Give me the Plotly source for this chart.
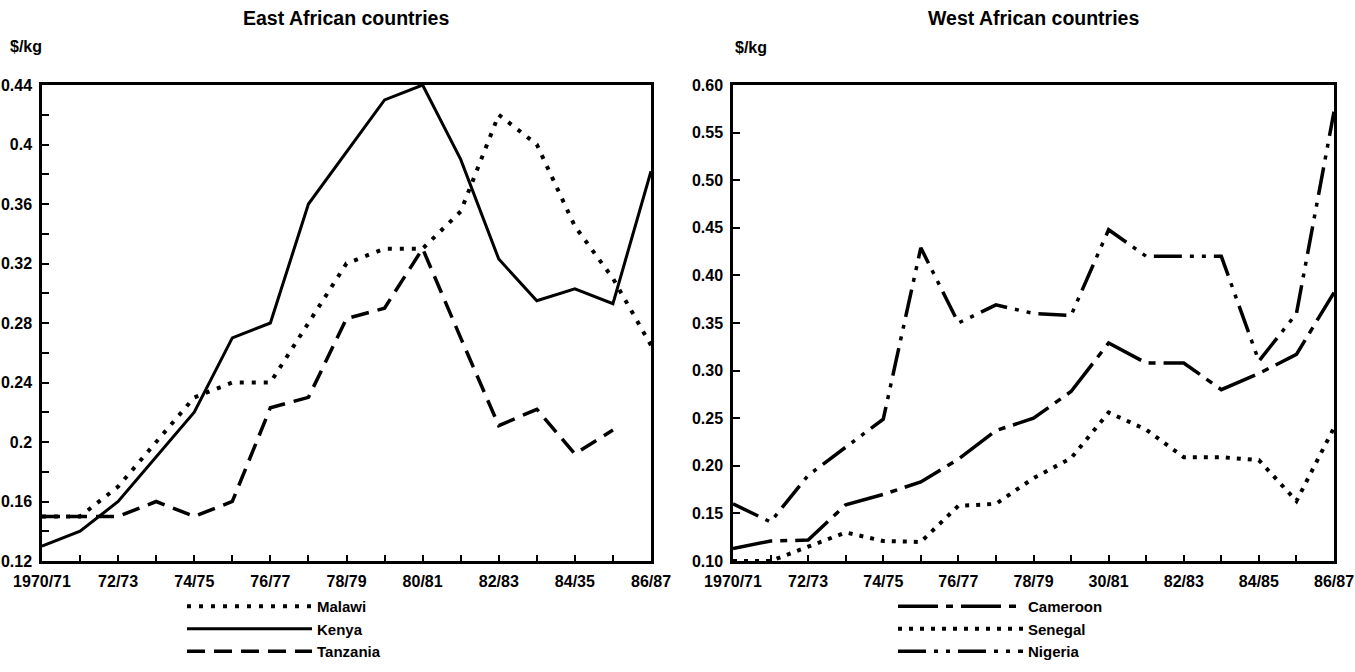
import plotly.graph_objects as go

# ---------------- data ----------------
years = list(range(1970, 1987))

east_tick_labels = ["1970/71", "72/73", "74/75", "76/77", "78/79", "80/81", "82/83", "84/35", "86/87"]
west_tick_labels = ["1970/71", "72/73", "74/75", "76/77", "78/79", "30/81", "82/83", "84/85", "86/87"]

malawi = [0.15, 0.15, 0.17, 0.20, 0.23, 0.24, 0.24, 0.28, 0.32, 0.33, 0.33, 0.355, 0.42, 0.40, 0.345, 0.31, 0.265]
kenya = [0.13, 0.14, 0.16, 0.19, 0.22, 0.27, 0.28, 0.36, 0.395, 0.43, 0.44, 0.39, 0.323, 0.295, 0.303, 0.293, 0.382]
tanzania = [0.15, 0.15, 0.15, 0.16, 0.15, 0.16, 0.223, 0.23, 0.283, 0.29, 0.33, 0.27, 0.211, 0.222, 0.192, 0.208, None]

cameroon = [0.113, 0.121, 0.122, 0.159, 0.17, 0.183, 0.207, 0.237, 0.25, 0.278, 0.329, 0.308, 0.308, 0.28, 0.297, 0.317, 0.382]
senegal = [0.10, 0.10, 0.115, 0.13, 0.121, 0.12, 0.158, 0.16, 0.187, 0.208, 0.256, 0.238, 0.209, 0.209, 0.206, 0.163, 0.24]
nigeria = [0.16, 0.141, 0.19, 0.22, 0.249, 0.429, 0.35, 0.369, 0.36, 0.358, 0.448, 0.42, 0.42, 0.42, 0.31, 0.36, 0.572]

east_yticks = [round(0.12 + 0.02 * i, 2) for i in range(17)]
east_ylabels = ["0.12", "0.16", "0.2", "0.24", "0.28", "0.32", "0.36", "0.4", "0.44"]
west_yticks = [round(0.10 + 0.05 * i, 2) for i in range(11)]
west_ylabels = ["0.10", "0.15", "0.20", "0.25", "0.30", "0.35", "0.40", "0.45", "0.50", "0.55", "0.60"]

# ---------------- figure ----------------
W, H = 1355, 672
FONT = "Liberation Sans, Arial, sans-serif"


def px(x):
    """page pixel x -> paper fraction"""
    return x / W


def py(y):
    """page pixel y -> paper fraction"""
    return 1 - y / H


fig = go.Figure()

east = [("Malawi", malawi, "4px,8px", 4),
        ("Kenya", kenya, "solid", 3),
        ("Tanzania", tanzania, "18px,9px", 3.5)]
west = [("Cameroon", cameroon, "40px,8px,7px,8px", 3.5),
        ("Senegal", senegal, "4px,7px", 4),
        ("Nigeria", nigeria, "28px,8px,4px,8px,4px,8px", 3.5)]

for name, vals, dash, w in east:
    fig.add_trace(go.Scatter(x=years, y=vals, name=name, mode="lines",
                             line=dict(color="black", width=w, dash=dash),
                             xaxis="x", yaxis="y", legend="legend"))
for name, vals, dash, w in west:
    fig.add_trace(go.Scatter(x=years, y=vals, name=name, mode="lines",
                             line=dict(color="black", width=w, dash=dash),
                             xaxis="x2", yaxis="y2", legend="legend2"))

tickfont = dict(family=FONT, size=16, color="black", weight="bold")

common_x = dict(range=[1970, 1986], showline=True, mirror=True, linewidth=2.5, linecolor="black",
                ticks="inside", ticklen=6, tickwidth=2, tickcolor="black", automargin=False,
                showgrid=False, zeroline=False, tickfont=tickfont, ticklabelstandoff=4)
common_y = dict(showline=True, mirror=True, linewidth=2.5, linecolor="black",
                ticks="inside", ticklen=7, tickwidth=2, tickcolor="black", automargin=False,
                showgrid=False, zeroline=False, tickfont=tickfont, ticklabelstandoff=4)


def xticks(labels):
    text = []
    li = 0
    for i, yv in enumerate(years):
        if i % 2 == 0:
            text.append(labels[li])
            li += 1
        else:
            text.append("")
    return text


def yticktext(vals, labels, step):
    out = []
    li = 0
    for i, v in enumerate(vals):
        if i % step == 0:
            out.append(labels[li])
            li += 1
        else:
            out.append("")
    return out


legend_font = dict(family=FONT, size=15, color="black", weight="bold")
label_font = dict(family=FONT, size=16, color="black", weight="bold")
title_font = dict(family=FONT, size=19.5, color="black", weight="bold")

fig.update_layout(
    width=W, height=H,
    margin=dict(l=0, r=0, t=0, b=0, autoexpand=False),
    paper_bgcolor="white", plot_bgcolor="white",
    font=dict(family=FONT, color="black"),
    xaxis=dict(domain=[px(42), px(651)], anchor="y", tickmode="array", tickvals=years,
               ticktext=xticks(east_tick_labels), **common_x),
    yaxis=dict(domain=[py(561), py(85)], anchor="x", range=[0.12, 0.44], tickmode="array",
               tickvals=east_yticks, ticktext=yticktext(east_yticks, east_ylabels, 2), **common_y),
    xaxis2=dict(domain=[px(733), px(1334)], anchor="y2", tickmode="array", tickvals=years,
                ticktext=xticks(west_tick_labels), **common_x),
    yaxis2=dict(domain=[py(561), py(85)], anchor="x2", range=[0.10, 0.60], tickmode="array",
                tickvals=west_yticks, ticktext=yticktext(west_yticks, west_ylabels, 1), **common_y),
    legend=dict(x=px(182), y=py(590), xanchor="left", yanchor="top", itemwidth=125,
                bgcolor="rgba(0,0,0,0)", font=legend_font, tracegroupgap=0, itemclick=False),
    legend2=dict(x=px(893), y=py(590), xanchor="left", yanchor="top", itemwidth=125,
                 bgcolor="rgba(0,0,0,0)", font=legend_font, tracegroupgap=0, itemclick=False),
    showlegend=True,
    annotations=[
        dict(text="East African countries", x=px(346), y=py(18), xref="paper", yref="paper",
             showarrow=False, xanchor="center", yanchor="middle", font=title_font),
        dict(text="West African countries", x=px(1033), y=py(18), xref="paper", yref="paper",
             showarrow=False, xanchor="center", yanchor="middle", font=title_font),
        dict(text="$/kg", x=px(8), y=py(47), xref="paper", yref="paper",
             showarrow=False, xanchor="left", yanchor="middle", font=label_font),
        dict(text="$/kg", x=px(733), y=py(48), xref="paper", yref="paper",
             showarrow=False, xanchor="left", yanchor="middle", font=label_font),
    ],
)

# remove the default 8px page margin so the figure fills the window exactly
fig.write_html("out.html", config={"displayModeBar": False},
               post_script="document.body.style.margin='0';document.body.style.overflow='hidden';")
